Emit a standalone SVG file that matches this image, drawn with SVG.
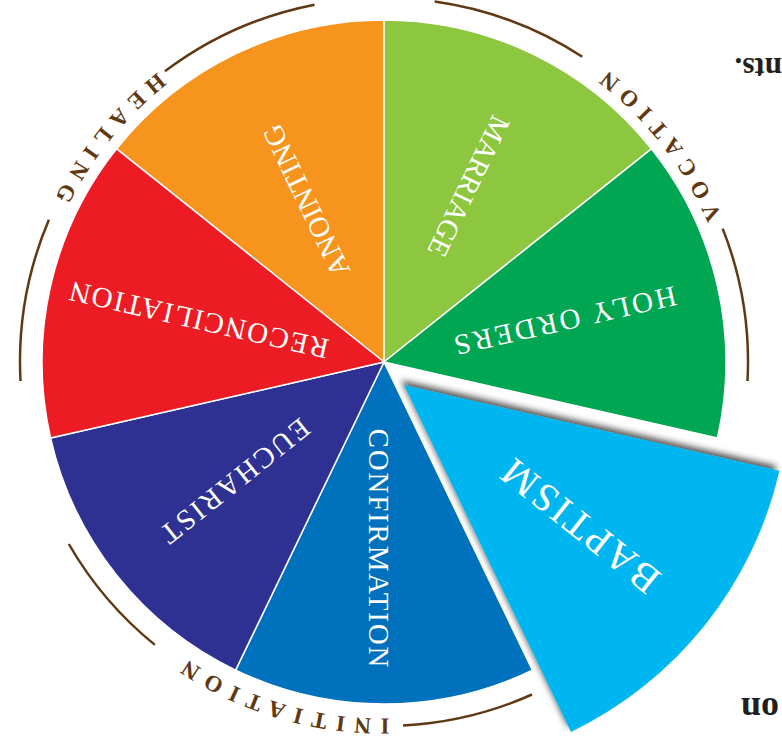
<svg xmlns="http://www.w3.org/2000/svg" width="782" height="751" viewBox="0 0 782 751">
<style>
 .sec{stroke:#fff;stroke-width:1.5;stroke-linejoin:round}
 .lbl{font-family:"Liberation Serif","Times New Roman",serif;fill:#fff;text-anchor:middle;font-size:29px}
 .arc{fill:none;stroke:#603913;stroke-width:2.5}
 .grp{font-family:"Liberation Serif","Times New Roman",serif;fill:#603913;font-size:23px;font-weight:bold;letter-spacing:9px}
 .frag{font-family:"Liberation Serif","Times New Roman",serif;fill:#231f20;font-weight:bold}
</style>
<defs>
 <filter id="sh" x="-15%" y="-15%" width="130%" height="130%">
  <feDropShadow dx="-3" dy="-5" stdDeviation="3" flood-color="#000" flood-opacity="0.65"/>
 </filter>
 <path id="pHeal" d="M374.82,-5.89 A369,369 0 0 0 23.3,434.9"/>
 <path id="pVoc" d="M744.7,434.9 A369,369 0 0 0 393.18,-5.89"/>
 <path id="pInit" d="M577.9,660.6 A355,355 0 0 1 56.3,501.1"/>
</defs>
<rect width="782" height="751" fill="#fff"/>

<g id="anointing">
 <path class="sec" fill="#F7941E" d="M384,362 L116.6,148.8 A342,342 0 0 1 384,20 Z"/>
 <text class="lbl" transform="translate(306.3,200.7) rotate(244.29)" y="9.6" textLength="165" lengthAdjust="spacing">ANOINTING</text>
</g>
<g id="marriage">
 <path class="sec" fill="#8DC63F" d="M384,362 L384,20 A342,342 0 0 1 651.4,148.8 Z"/>
 <text class="lbl" transform="translate(468.6,186.3) rotate(115.71)" y="9.6" textLength="153" lengthAdjust="spacing">MARRIAGE</text>
</g>
<g id="holy-orders">
 <path class="sec" fill="#00A651" d="M384,362 L651.4,148.8 A342,342 0 0 1 717.4,438.1 Z"/>
 <text class="lbl" transform="translate(565.3,320.6) rotate(167.14)" y="9.6" textLength="227" lengthAdjust="spacing">HOLY ORDERS</text>
</g>
<g id="confirmation">
 <path class="sec" fill="#0071BC" d="M384,362 L532.4,670.1 A342,342 0 0 1 235.6,670.1 Z"/>
 <text class="lbl" transform="translate(379,548) rotate(90)" y="9.6" textLength="239" lengthAdjust="spacing">CONFIRMATION</text>
</g>
<g id="eucharist">
 <path class="sec" fill="#2E3192" d="M384,362 L235.6,670.1 A342,342 0 0 1 50.6,438.1 Z"/>
 <text class="lbl" transform="translate(235,481) rotate(141.43)" y="9.6" textLength="182" lengthAdjust="spacing">EUCHARIST</text>
</g>
<g id="reconciliation">
 <path class="sec" fill="#ED1C24" d="M384,362 L50.6,438.1 A342,342 0 0 1 116.6,148.8 Z"/>
 <text class="lbl" transform="translate(199,320) rotate(192.86)" y="9.6" textLength="265" lengthAdjust="spacing">RECONCILIATION</text>
</g>

<g id="connectors">
 <path class="arc" d="M20.5,381.05 A364,364 0 0 1 48.9,219.8"/>
 <path class="arc" d="M164.9,71.3 A364,364 0 0 1 314.55,4.7"/>
 <path class="arc" d="M434.66,1.5 A364,364 0 0 1 582.25,56.7"/>
 <path class="arc" d="M722.7,228.6 A364,364 0 0 1 747.5,381.05"/>
 <path class="arc" d="M532.05,694.5 A364,364 0 0 1 403.05,725.5"/>
 <path class="arc" d="M154.9,644.9 A364,364 0 0 1 68.8,544"/>
</g>

<g id="healing">
 <text class="grp"><textPath href="#pHeal" startOffset="50%" text-anchor="middle">HEALING</textPath></text>
</g>
<g id="vocation">
 <text class="grp"><textPath href="#pVoc" startOffset="50%" text-anchor="middle">VOCATION</textPath></text>
</g>
<g id="initiation">
 <text class="grp"><textPath href="#pInit" startOffset="50%" text-anchor="middle">INITIATION</textPath></text>
</g>

<g id="baptism">
 <path fill="#00B6F0" filter="url(#sh)" d="M404,385 L779.3,470.7 A385,385 0 0 1 571,731.9 Z"/>
 <text class="lbl" style="font-size:40px" transform="translate(580.7,525.9) rotate(218.57)" y="13" textLength="190" lengthAdjust="spacing">BAPTISM</text>
</g>

<g id="fragments" transform="rotate(180 391 375.5)">
 <text class="frag" x="0" y="693" font-size="31">nts.</text>
 <text class="frag" x="3" y="53" font-size="36">on</text>
</g>
</svg>
